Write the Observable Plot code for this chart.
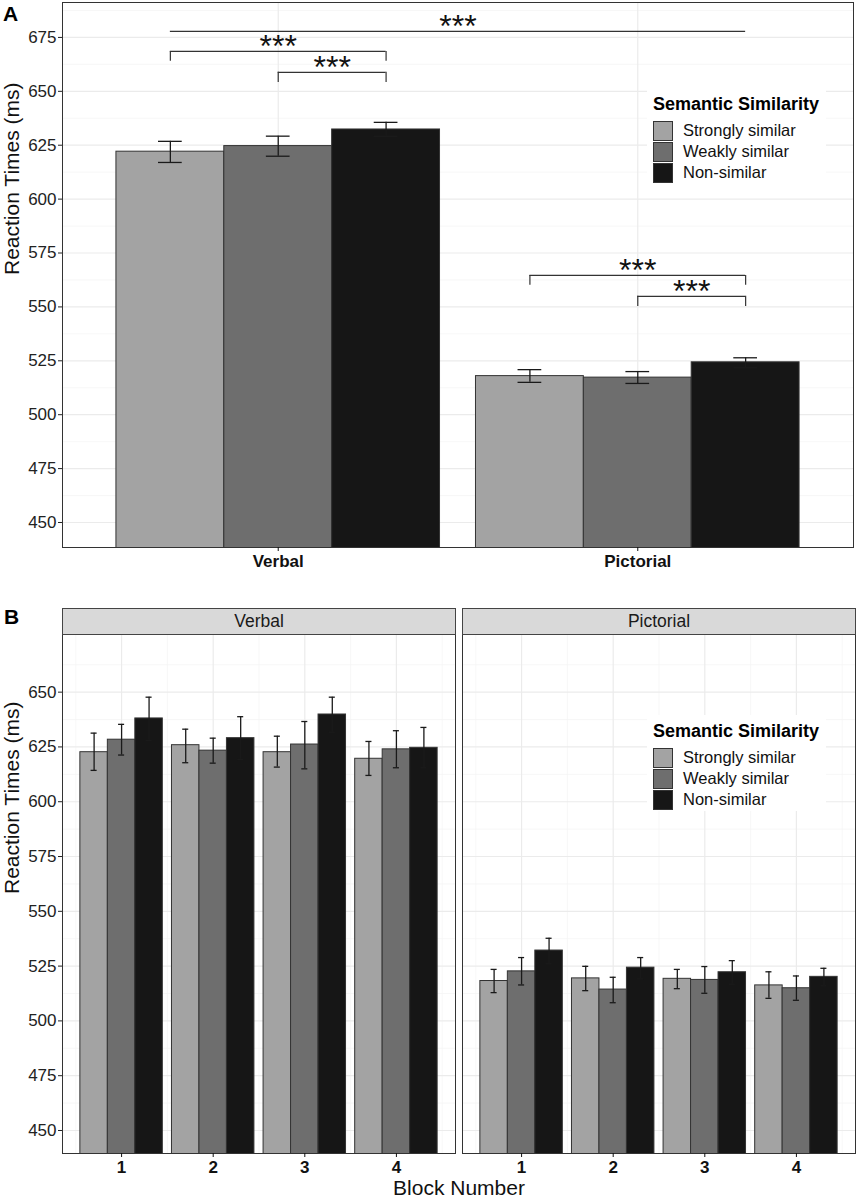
<!DOCTYPE html>
<html><head><meta charset="utf-8">
<script src="https://cdn.jsdelivr.net/npm/d3@7"></script>
<script src="https://cdn.jsdelivr.net/npm/@observablehq/plot@0.6"></script>
<style>
body{margin:0;background:#fff;font-family:"Liberation Sans",Arial,sans-serif;}
#page{position:relative;width:857px;height:1200px;overflow:hidden;background:#fff;}
.abs{position:absolute;}
.plab{position:absolute;font-weight:bold;font-size:21px;line-height:24px;color:#000;}
.legend{position:absolute;left:647px;width:179px;height:96px;background:#fff;}
.legend .ttl{position:absolute;left:6px;top:6px;line-height:20px;font-size:18px;font-weight:bold;color:#000;white-space:nowrap;}
.legend .key{position:absolute;left:6px;width:20px;height:20px;box-sizing:border-box;border:1px solid #333;}
.legend .lbl{position:absolute;left:36px;line-height:21px;font-size:16.5px;color:#111;white-space:nowrap;}
.strip{position:absolute;top:608px;height:27px;box-sizing:border-box;border:1px solid #444;background:#d9d9d9;text-align:center;font-size:17.5px;line-height:25px;color:#1a1a1a;}
</style>
</head><body>
<div id="page">
  <div id="A" class="abs" style="left:0;top:0"></div>
  <div id="B" class="abs" style="left:0;top:580px"></div>
</div>
<script>
// ---------- data ----------
const modalities = ["Verbal", "Pictorial"];
const similarities = ["Strongly similar", "Weakly similar", "Non-similar"];
const fills = ["#a3a3a3", "#6e6e6e", "#161616"];
const legendTitle = "Semantic Similarity";
const yTitle = "Reaction Times (ms)";
const xTitleB = "Block Number";
const panelLabels = ["A", "B"];

// Panel A (overall)
const aVerbalMean = [622.0, 624.6, 632.3];
const aVerbalLow = [617.0, 619.9, 629.1];
const aVerbalHigh = [626.8, 629.2, 635.6];
const aPictorialMean = [517.9, 517.2, 524.3];
const aPictorialLow = [515.0, 514.5, 521.8];
const aPictorialHigh = [520.9, 520.0, 526.4];
const yTicksA = [450, 475, 500, 525, 550, 575, 600, 625, 650, 675];

// significance brackets (panel A)
const sigFromModality = ["Verbal", "Verbal", "Verbal", "Pictorial", "Pictorial"];
const sigFromSim = ["Strongly similar", "Strongly similar", "Weakly similar", "Strongly similar", "Weakly similar"];
const sigToModality = ["Pictorial", "Verbal", "Verbal", "Pictorial", "Pictorial"];
const sigToSim = ["Non-similar", "Non-similar", "Non-similar", "Non-similar", "Non-similar"];
const sigY = [677.8, 668.5, 658.8, 564.6, 554.9];
const sigTipY = [677.8, 663.9, 654.1, 560.0, 550.2];
const sigLabel = ["***", "***", "***", "***", "***"];

// Panel B (by block)
const blocks = [1, 2, 3, 4];
const bVerbalMean = [[622.6, 625.8, 622.6, 619.6], [628.3, 623.3, 626.1, 623.9], [638.0, 629.0, 639.8, 624.6]];
const bVerbalLow = [[614.3, 617.8, 615.8, 612.0], [621.3, 617.6, 615.0, 615.5], [628.0, 619.3, 631.7, 615.5]];
const bVerbalHigh = [[631.3, 633.1, 629.9, 627.5], [635.3, 629.0, 636.6, 632.4], [647.7, 638.8, 647.7, 633.9]];
const bPictorialMean = [[518.2, 519.4, 519.2, 516.2], [522.6, 514.3, 518.7, 514.9], [532.1, 524.3, 522.2, 520.1]];
const bPictorialLow = [[512.9, 513.8, 514.7, 510.3], [516.4, 508.3, 512.6, 509.4], [526.1, 519.2, 516.7, 516.0]];
const bPictorialHigh = [[523.5, 524.9, 523.5, 522.4], [528.9, 519.9, 524.8, 520.5], [537.7, 528.9, 527.5, 524.0]];
const yTicksB = [450, 475, 500, 525, 550, 575, 600, 625, 650];

// ---------- helpers ----------
const dodge = 0.3, half = 0.15, cap = 0.033;
const font = "Liberation Sans, Arial, sans-serif";
const gridMajor = {stroke: "#ebebeb", strokeWidth: 1.2, strokeOpacity: 1};
const gridMinor = {stroke: "#f3f3f3", strokeWidth: 0.7, strokeOpacity: 1};
const minorOf = t => t.map(v => v + 12.5);

// ---------- panel A ----------
const aMeans = {Verbal: aVerbalMean, Pictorial: aPictorialMean};
const aLows = {Verbal: aVerbalLow, Pictorial: aPictorialLow};
const aHighs = {Verbal: aVerbalHigh, Pictorial: aPictorialHigh};
const dataA = modalities.flatMap((m, gi) => similarities.map((s, si) => ({
  modality: m, sim: s, pos: gi + 1 + (si - 1) * dodge,
  mean: aMeans[m][si], low: aLows[m][si], high: aHighs[m][si]
})));
const posOf = (m, s) => modalities.indexOf(m) + 1 + (similarities.indexOf(s) - 1) * dodge;
const sigs = sigY.map((y, i) => ({
  x1: posOf(sigFromModality[i], sigFromSim[i]), x2: posOf(sigToModality[i], sigToSim[i]),
  y, tip: sigTipY[i], label: sigLabel[i]
}));
const tips = sigs.flatMap(d => d.tip === d.y ? [] : [{x: d.x1, y: d.y, tip: d.tip}, {x: d.x2, y: d.y, tip: d.tip}]);

const plotA = Plot.plot({
  width: 857, height: 580, marginLeft: 62, marginRight: 4, marginTop: 2, marginBottom: 33,
  style: {fontFamily: font, fontSize: "17px", background: "white", color: "#222", overflow: "visible"},
  x: {type: "linear", domain: [0.4, 2.6], axis: null},
  y: {domain: [438.4, 691.2], axis: null},
  color: {domain: similarities, range: fills},
  marks: [
    Plot.gridY(minorOf(yTicksA), gridMinor),
    Plot.gridY(yTicksA, gridMajor),
    Plot.gridX([1, 2], gridMajor),
    Plot.rect(dataA, {x1: d => d.pos - half, x2: d => d.pos + half, y1: 0, y2: "mean", fill: "sim", stroke: "#333", strokeWidth: 1, clip: true}),
    Plot.ruleX(dataA, {x: "pos", y1: "low", y2: "high", stroke: "#1a1a1a", strokeWidth: 1.3}),
    Plot.ruleY(dataA, {y: "low", x1: d => d.pos - cap, x2: d => d.pos + cap, stroke: "#1a1a1a", strokeWidth: 1.3}),
    Plot.ruleY(dataA, {y: "high", x1: d => d.pos - cap, x2: d => d.pos + cap, stroke: "#1a1a1a", strokeWidth: 1.3}),
    Plot.ruleY(sigs, {y: "y", x1: "x1", x2: "x2", stroke: "#333", strokeWidth: 1.2}),
    Plot.ruleX(tips, {x: "x", y1: "tip", y2: "y", stroke: "#333", strokeWidth: 1.2}),
    Plot.text(sigs, {x: d => (d.x1 + d.x2) / 2, y: "y", text: "label", fontSize: 32, dy: -5, fill: "#111"}),
    Plot.frame({stroke: "#333", strokeWidth: 1}),
    Plot.axisY(yTicksA, {tickSize: 4, tickPadding: 2, fontSize: 17, label: null, color: "#222"}),
    Plot.axisX([1, 2], {tickFormat: i => modalities[i - 1], fontWeight: "bold", fontSize: 17, tickSize: 4, tickPadding: 3, label: null, color: "#111"}),
    Plot.text([yTitle], {text: d => d, frameAnchor: "left", rotate: -90, dx: -50, fontSize: 21, fill: "#111"})
  ]
});
document.getElementById("A").appendChild(plotA);

// ---------- panel B ----------
const bMeans = {Verbal: bVerbalMean, Pictorial: bPictorialMean};
const bLows = {Verbal: bVerbalLow, Pictorial: bPictorialLow};
const bHighs = {Verbal: bVerbalHigh, Pictorial: bPictorialHigh};
const dataB = modalities.flatMap(m => similarities.flatMap((s, si) => blocks.map((b, bi) => ({
  modality: m, sim: s, pos: b + (si - 1) * dodge,
  mean: bMeans[m][si][bi], low: bLows[m][si][bi], high: bHighs[m][si][bi]
}))));
const xMinorB = [0.5, ...blocks.map(b => b + 0.5)];

const plotB = Plot.plot({
  width: 857, height: 620, marginLeft: 62, marginRight: 2, marginTop: 54, marginBottom: 47,
  style: {fontFamily: font, fontSize: "17px", background: "white", color: "#222", overflow: "visible"},
  fx: {domain: modalities, paddingInner: 0.0175, paddingOuter: 0, axis: null},
  x: {type: "linear", domain: [0.355, 4.645], axis: null},
  y: {domain: [439.5, 676.3], axis: null},
  color: {domain: similarities, range: fills},
  marks: [
    Plot.gridY(minorOf(yTicksB), gridMinor),
    Plot.gridX(xMinorB, gridMinor),
    Plot.gridY(yTicksB, gridMajor),
    Plot.gridX(blocks, gridMajor),
    Plot.rect(dataB, {fx: "modality", x1: d => d.pos - half, x2: d => d.pos + half, y1: 0, y2: "mean", fill: "sim", stroke: "#333", strokeWidth: 1, clip: true}),
    Plot.ruleX(dataB, {fx: "modality", x: "pos", y1: "low", y2: "high", stroke: "#1a1a1a", strokeWidth: 1.3}),
    Plot.ruleY(dataB, {fx: "modality", y: "low", x1: d => d.pos - cap, x2: d => d.pos + cap, stroke: "#1a1a1a", strokeWidth: 1.3}),
    Plot.ruleY(dataB, {fx: "modality", y: "high", x1: d => d.pos - cap, x2: d => d.pos + cap, stroke: "#1a1a1a", strokeWidth: 1.3}),
    Plot.frame({stroke: "#333", strokeWidth: 1}),
    Plot.axisY(yTicksB, {tickSize: 4, tickPadding: 2, fontSize: 17, label: null, color: "#222"}),
    Plot.axisX(blocks, {tickFormat: d => String(d), fontWeight: "bold", fontSize: 17, tickSize: 4, tickPadding: 3, label: null, color: "#111"}),
    Plot.text([yTitle], {text: d => d, frameAnchor: "left", rotate: -90, dx: -50, fontSize: 21, fill: "#111", facet: "super"}),
    Plot.text([xTitleB], {text: d => d, frameAnchor: "bottom", lineAnchor: "middle", dy: 35, fontSize: 21, fill: "#111", facet: "super"})
  ]
});
document.getElementById("B").appendChild(plotB);

// ---------- HTML decorations: panel labels, strips, legends ----------
const page = document.getElementById("page");
function add(cls, css, text) {
  const el = document.createElement("div");
  el.className = cls; el.style.cssText = css;
  if (text != null) el.textContent = text;
  page.appendChild(el); return el;
}
add("plab", "left:3px;top:2px", panelLabels[0]);
add("plab", "left:4px;top:605px", panelLabels[1]);

// strips (positions from fx scale)
const fxScale = plotB.scale("fx");
modalities.forEach(m => {
  add("strip", `left:${fxScale.apply(m)}px;width:${fxScale.bandwidth + 1}px`, m);
});

function legend(top) {
  const box = add("legend", `top:${top}px`);
  const t = document.createElement("div"); t.className = "ttl"; t.textContent = legendTitle; box.appendChild(t);
  similarities.forEach((s, i) => {
    const k = document.createElement("div"); k.className = "key";
    k.style.top = (33 + i * 21) + "px"; k.style.background = fills[i]; box.appendChild(k);
    const l = document.createElement("div"); l.className = "lbl";
    l.style.top = (31.5 + i * 21) + "px"; l.textContent = s; box.appendChild(l);
  });
}
legend(88);
legend(715);
</script>
</body></html>
